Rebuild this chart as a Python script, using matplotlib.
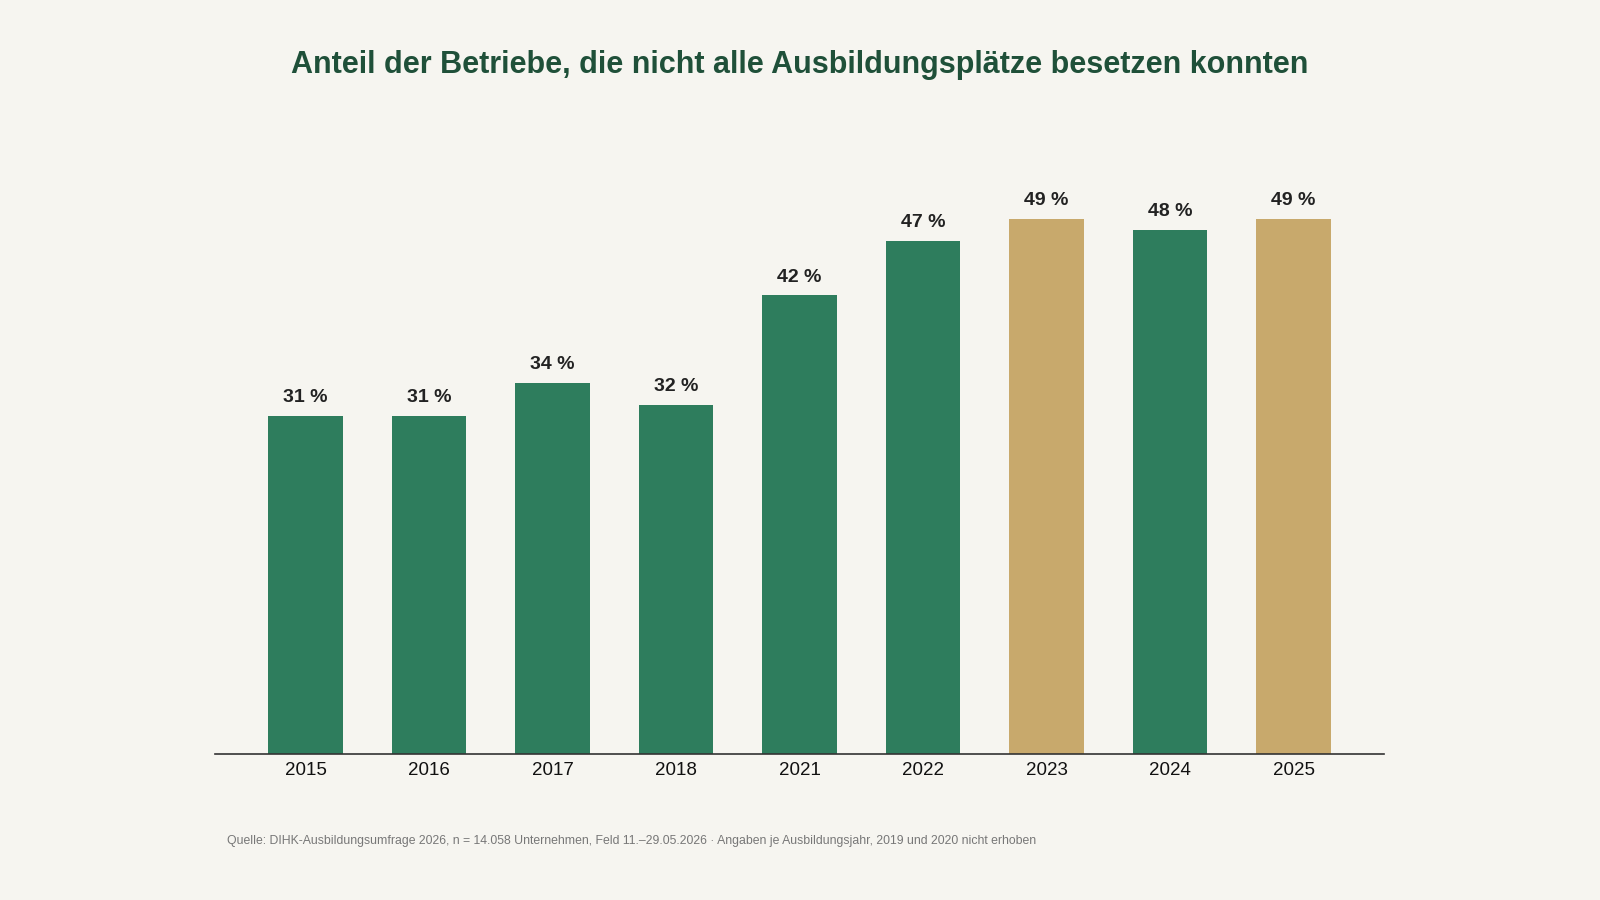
import matplotlib.pyplot as plt
import numpy as np

plt.rcParams['font.family'] = ['Liberation Sans', 'DejaVu Sans']

# DATA
years = ['2015', '2016', '2017', '2018', '2021', '2022', '2023', '2024', '2025']
shares = [31, 31, 34, 32, 42, 47, 49, 48, 49]
highlight = [False, False, False, False, False, False, True, False, True]

GREEN = '#2e7d5d'
GOLD = '#c8a96c'
BG = '#f6f5f0'

fig = plt.figure(figsize=[16, 9], dpi=100, facecolor=BG)
ax = fig.add_axes([0.1346, 0.1621, 0.7302, 0.6905])
ax.set_facecolor(BG)

x = np.arange(len(years))
colors = [GOLD if h else GREEN for h in highlight]
bars = ax.bar(x, shares, width=0.6, color=colors, zorder=2)

for b, v in zip(bars, shares):
    ax.annotate(f'{v} %', (b.get_x() + b.get_width() / 2, v),
                xytext=(0, 7), textcoords='offset points',
                ha='center', va='bottom', fontsize=14, fontweight='bold',
                color='#222222')

ax.set_xlim(-0.73, len(years) - 1 + 0.73)
ax.set_ylim(0, 56.9)
ax.set_xticks(x)
ax.set_xticklabels(years, fontsize=13.5, color='#111111')
ax.tick_params(axis='x', length=0, pad=6)
ax.set_yticks([])
for s in ['top', 'right', 'left']:
    ax.spines[s].set_visible(False)
ax.spines['bottom'].set_color('#333333')
ax.spines['bottom'].set_linewidth(1.2)

fig.text(0.5, 0.928, 'Anteil der Betriebe, die nicht alle Ausbildungsplätze besetzen konnten',
         ha='center', va='center', fontsize=22, fontweight='bold', color='#1f5039')

fig.text(0.1416, 0.0658,
         'Quelle: DIHK-Ausbildungsumfrage 2026, n = 14.058 Unternehmen, Feld 11.–29.05.2026 · '
         'Angaben je Ausbildungsjahr, 2019 und 2020 nicht erhoben',
         ha='left', va='center', fontsize=8.8, color='#777777')

plt.savefig('out.png', dpi=100, facecolor=BG)
